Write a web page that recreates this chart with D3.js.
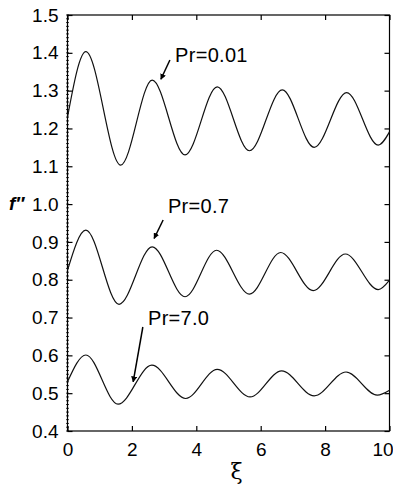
<!DOCTYPE html>
<html lang="en"><head>
<meta charset="utf-8">
<title>f'' vs xi</title>
<script src="https://cdn.jsdelivr.net/npm/d3@7"></script>
<style>
body { margin: 0; background: #fff; }
text { font-family: "Liberation Sans", Arial, sans-serif; fill: #000; }
</style>
</head>
<body>
<script type="text/javascript">

// curve extrema
var xi001 = [0, 0.57, 1.65, 2.63, 3.65, 4.65, 5.65, 6.67, 7.66, 8.67, 9.65, 10];
var f001  = [1.23, 1.403, 1.103, 1.328, 1.130, 1.310, 1.141, 1.302, 1.150, 1.295, 1.156, 1.191];

var xi07 = [0, 0.57, 1.6, 2.63, 3.65, 4.63, 5.65, 6.62, 7.63, 8.63, 9.65, 10];
var f07  = [0.825, 0.931, 0.735, 0.887, 0.755, 0.878, 0.762, 0.872, 0.771, 0.868, 0.774, 0.799];

var xi70 = [0, 0.57, 1.57, 2.62, 3.67, 4.65, 5.67, 6.65, 7.66, 8.65, 9.62, 10];
var f70  = [0.530, 0.601, 0.471, 0.574, 0.486, 0.563, 0.490, 0.559, 0.493, 0.556, 0.495, 0.508];

var xTicks = [0, 2, 4, 6, 8, 10];
var yTicks = [0.4, 0.5, 0.6, 0.7, 0.8, 0.9, 1.0, 1.1, 1.2, 1.3, 1.4, 1.5];

// labels: text position and arrow (from -> to), in data units
var labels = ["Pr=0.01", "Pr=0.7", "Pr=7.0"];
var labelPos = [[3.34, 1.376], [3.12, 0.976], [2.50, 0.680]];
var arrowFrom = [[3.18, 1.381], [2.97, 0.958], [2.34, 0.675]];
var arrowTo = [[2.90, 1.330], [2.69, 0.909], [2.04, 0.530]];

var width = 393, height = 487;
var mLeft = 67.5, mRight = 389.5, mTop = 15, mBottom = 431;

var svg = d3.select("body").append("svg")
    .attr("width", width)
    .attr("height", height);

var x = d3.scaleLinear().domain([0, 10]).range([mLeft, mRight]);
var y = d3.scaleLinear().domain([0.4, 1.5]).range([mBottom, mTop]);

svg.append("defs").append("marker")
    .attr("id", "head")
    .attr("viewBox", "0 0 10 10")
    .attr("refX", 9).attr("refY", 5)
    .attr("markerWidth", 6).attr("markerHeight", 6)
    .attr("markerUnits", "userSpaceOnUse")
    .attr("orient", "auto")
    .append("path").attr("d", "M0,0L10,5L0,10z").attr("fill", "#000");

// minor ticks on left axis
svg.append("g")
    .selectAll("line")
    .data(d3.range(40, 151).map(d => d / 100))
    .enter().append("line")
    .attr("x1", mLeft - 1.5).attr("x2", mLeft + 1.5)
    .attr("y1", d => y(d)).attr("y2", d => y(d))
    .attr("stroke", "#000").attr("stroke-width", 0.8);

// frame
svg.append("rect")
    .attr("x", mLeft).attr("y", mTop)
    .attr("width", mRight - mLeft).attr("height", mBottom - mTop)
    .attr("fill", "none").attr("stroke", "#000").attr("stroke-width", 1.2);

// axes with inward ticks
var bx = svg.append("g").attr("transform", `translate(0,${mBottom})`)
    .call(d3.axisBottom(x).tickValues(xTicks).tickSize(-5).tickPadding(12).tickFormat(d3.format("d")));
var tx = svg.append("g").attr("transform", `translate(0,${mTop})`)
    .call(d3.axisTop(x).tickValues(xTicks).tickSize(-5).tickFormat(""));
var ly = svg.append("g").attr("transform", `translate(${mLeft},0)`)
    .call(d3.axisLeft(y).tickValues(yTicks).tickSize(-5).tickPadding(9).tickFormat(d3.format(".1f")));
var ry = svg.append("g").attr("transform", `translate(${mRight},0)`)
    .call(d3.axisRight(y).tickValues(yTicks).tickSize(-5).tickFormat(""));

[bx, tx, ly, ry].forEach(g => {
    g.select(".domain").remove();
    g.selectAll(".tick line").attr("stroke", "#000").attr("stroke-width", 1.2);
    g.selectAll("text").style("font-size", "19px").attr("font-family", "Liberation Sans, Arial, sans-serif");
});
// keep "10" inside the picture
bx.selectAll(".tick text").filter(d => d === 10).attr("dx", -7);

// curves
var line = d3.line()
    .x(d => x(d[0])).y(d => y(d[1]))
    .curve(d3.curveMonotoneX);

[[xi001, f001], [xi07, f07], [xi70, f70]].forEach(s => {
    svg.append("path")
        .datum(s[0].map((v, i) => [v, s[1][i]]))
        .attr("d", line)
        .attr("fill", "none")
        .attr("stroke", "#111")
        .attr("stroke-width", 1.2);
});

// annotations
labels.forEach((t, i) => {
    svg.append("text")
        .attr("x", x(labelPos[i][0])).attr("y", y(labelPos[i][1]))
        .style("font-size", "20px")
        .style("letter-spacing", "0.3px")
        .text(t);
    svg.append("line")
        .attr("x1", x(arrowFrom[i][0])).attr("y1", y(arrowFrom[i][1]))
        .attr("x2", x(arrowTo[i][0])).attr("y2", y(arrowTo[i][1]))
        .attr("stroke", "#000").attr("stroke-width", 1.5)
        .attr("marker-end", "url(#head)");
});

// axis titles
svg.append("text")
    .attr("x", 9).attr("y", 210)
    .style("font-size", "19px").style("font-style", "italic").style("font-weight", "bold")
    .text("f\u2033");

svg.append("text")
    .attr("x", (mLeft + mRight) / 2 + 8).attr("y", 479)
    .attr("text-anchor", "middle")
    .style("font-size", "22px")
    .style("font-family", "DejaVu Serif, serif")
    .text("\u03be");

</script>
</body></html>
